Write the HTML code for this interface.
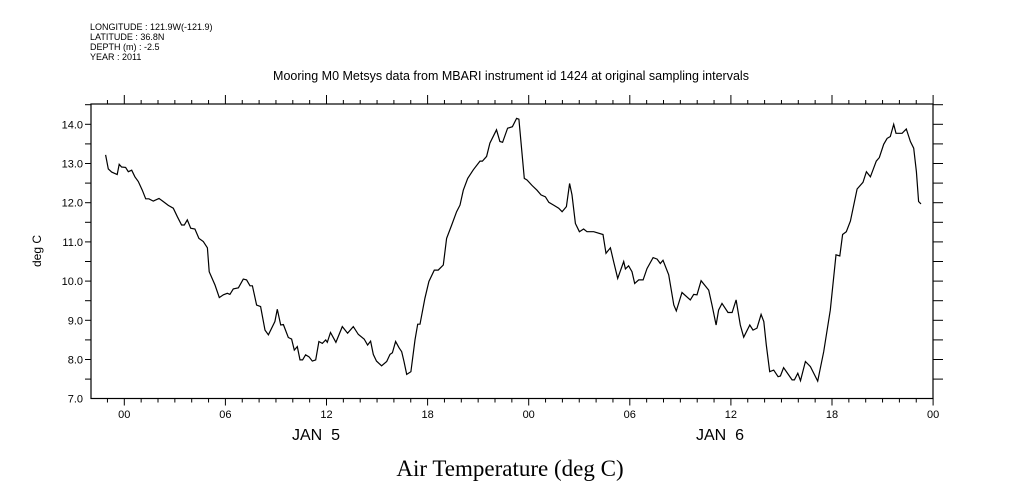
<!DOCTYPE html>
<html><head><meta charset="utf-8"><style>
body{margin:0;background:#fff}
svg{display:block}
text{font-family:"Liberation Sans",sans-serif;fill:#000}
</style></head><body>
<svg id="chart" width="1009" height="504" viewBox="0 0 1009 504" xmlns="http://www.w3.org/2000/svg">
<g font-size="9">
<text x="90" y="30">LONGITUDE : 121.9W(-121.9)</text>
<text x="90" y="40">LATITUDE : 36.8N</text>
<text x="90" y="50">DEPTH (m) : -2.5</text>
<text x="90" y="60">YEAR : 2011</text>
</g>
<text x="511" y="80" text-anchor="middle" font-size="12.5">Mooring M0 Metsys data from MBARI instrument id 1424 at original sampling intervals</text>
<rect x="91" y="104" width="842" height="294.5" fill="none" stroke="#000" stroke-width="1.2"/>
<g id="axes"></g>
<path id="line" fill="none" stroke="#000" stroke-width="1.2"/>
<text transform="translate(41,251) rotate(-90)" text-anchor="middle" font-size="12">deg C</text>
<text x="316" y="440" text-anchor="middle" font-size="16" xml:space="preserve">JAN  5</text>
<text x="720" y="440" text-anchor="middle" font-size="16" xml:space="preserve">JAN  6</text>
<text x="510" y="476" text-anchor="middle" font-size="23" style="font-family:'Liberation Serif',serif">Air Temperature (deg C)</text>
</svg>
<script>
const hours=[-1.11,-0.95,-0.75,-0.42,-0.30,-0.16,0.08,0.24,0.44,0.63,0.83,1.07,1.27,1.46,1.72,2.06,2.31,2.61,2.91,3.15,3.40,3.56,3.74,3.94,4.19,4.43,4.69,4.93,5.04,5.38,5.64,5.88,6.11,6.27,6.47,6.77,7.06,7.26,7.46,7.60,7.85,8.09,8.35,8.55,8.94,9.08,9.28,9.44,9.73,9.93,10.09,10.27,10.43,10.58,10.76,10.96,11.16,11.36,11.55,11.75,11.95,12.05,12.24,12.56,12.94,13.25,13.59,13.89,14.24,14.44,14.62,14.78,14.97,15.27,15.57,15.77,15.91,16.10,16.30,16.46,16.60,16.76,17.01,17.25,17.41,17.55,17.84,18.08,18.40,18.63,18.93,19.13,19.43,19.72,19.92,20.12,20.38,20.71,21.11,21.25,21.50,21.70,22.09,22.29,22.45,22.75,23.03,23.28,23.42,23.74,23.90,24.20,24.49,24.73,24.99,25.19,25.48,25.78,25.98,26.24,26.43,26.57,26.77,27.01,27.26,27.46,27.86,28.41,28.59,28.85,29.04,29.28,29.64,29.74,29.93,30.13,30.29,30.53,30.79,31.02,31.38,31.62,31.81,31.97,32.31,32.61,32.76,33.10,33.59,33.79,33.99,34.23,34.68,34.88,35.12,35.27,35.47,35.83,36.07,36.31,36.56,36.76,37.12,37.31,37.55,37.79,37.95,38.10,38.30,38.54,38.80,38.94,39.13,39.63,39.77,39.97,40.13,40.42,40.72,41.15,41.51,41.90,42.24,42.46,42.63,42.85,43.09,43.49,43.84,44.04,44.28,44.63,44.81,45.07,45.27,45.46,45.66,45.80,46.16,46.41,46.65,46.85,47.01,47.14,47.28];
const temps=[13.22,12.86,12.78,12.72,12.98,12.91,12.90,12.79,12.83,12.66,12.54,12.32,12.10,12.10,12.04,12.11,12.03,11.93,11.86,11.64,11.43,11.43,11.56,11.35,11.33,11.09,11.01,10.85,10.24,9.90,9.58,9.65,9.69,9.66,9.80,9.83,10.05,10.03,9.88,9.88,9.39,9.35,8.75,8.63,8.97,9.28,8.88,8.89,8.56,8.52,8.24,8.33,7.99,7.99,8.12,8.07,7.96,7.99,8.46,8.41,8.50,8.44,8.69,8.44,8.84,8.67,8.84,8.64,8.52,8.37,8.47,8.13,7.96,7.84,7.95,8.13,8.17,8.46,8.30,8.20,7.95,7.62,7.69,8.50,8.90,8.90,9.56,9.99,10.28,10.28,10.41,11.09,11.43,11.77,11.94,12.32,12.62,12.84,13.06,13.06,13.18,13.52,13.86,13.56,13.54,13.90,13.94,14.15,14.13,12.62,12.58,12.44,12.32,12.20,12.15,12.01,11.94,11.86,11.77,11.90,12.49,12.20,11.47,11.26,11.33,11.26,11.26,11.19,10.71,10.85,10.50,10.07,10.50,10.31,10.39,10.24,9.94,10.03,10.03,10.32,10.60,10.56,10.45,10.53,10.16,9.39,9.24,9.71,9.52,9.66,9.65,10.01,9.77,9.39,8.88,9.26,9.43,9.20,9.20,9.52,8.88,8.57,8.88,8.75,8.80,9.15,8.97,8.37,7.69,7.73,7.56,7.58,7.79,7.48,7.48,7.65,7.46,7.95,7.82,7.45,8.20,9.26,10.67,10.64,11.19,11.26,11.53,12.35,12.52,12.79,12.66,13.06,13.15,13.49,13.64,13.69,14.00,13.77,13.77,13.88,13.56,13.39,12.79,12.03,11.97];
const yTickValues=[7.0,8.0,9.0,10.0,11.0,12.0,13.0,14.0];
const xTickLabels=["00","06","12","18","00","06","12","18","00"];
const X0=124.3,PXH=16.85,Y14=124.3,PXU=39.2,TOP=104,BOT=398.5,L=91,R=933;
const xs=h=>X0+h*PXH;
const ys=v=>Y14+(14-v)*PXU;
const NS="http://www.w3.org/2000/svg";
const ax=document.getElementById('axes');
function ln(x1,y1,x2,y2,name){const e=document.createElementNS(NS,'line');e.setAttribute('x1',x1);e.setAttribute('y1',y1);e.setAttribute('x2',x2);e.setAttribute('y2',y2);e.setAttribute('stroke','#000');e.setAttribute('stroke-width','1');


ax.appendChild(e);}
for(let h=-1;h<=48;h++){const x=xs(h);const major=(h%6===0);
ln(x,TOP,x,TOP-(major?9:4),'x-tick-top');
ln(x,BOT,x,BOT+(major?7:4),'x-tick-bottom');}
xTickLabels.forEach((t,i)=>{const e=document.createElementNS(NS,'text');e.setAttribute('x',xs(i*6));e.setAttribute('y',418);e.setAttribute('text-anchor','middle');e.setAttribute('font-size','11');e.textContent=t;


ax.appendChild(e);});
for(let v=7.5;v<=14.5;v+=0.5){const y=ys(v);ln(L-6,y,L,y,'y-tick-left');ln(R,y,R+10,y,'y-tick-right');}
yTickValues.forEach(v=>{const e=document.createElementNS(NS,'text');e.setAttribute('x',83);e.setAttribute('y',ys(v)+4);e.setAttribute('text-anchor','end');e.setAttribute('font-size','11');e.textContent=v.toFixed(1);


ax.appendChild(e);});
document.getElementById('line').setAttribute('d',hours.map((h,i)=>(i?'L':'M')+xs(h).toFixed(1)+','+ys(temps[i]).toFixed(1)).join(''));
</script>
</body></html>
